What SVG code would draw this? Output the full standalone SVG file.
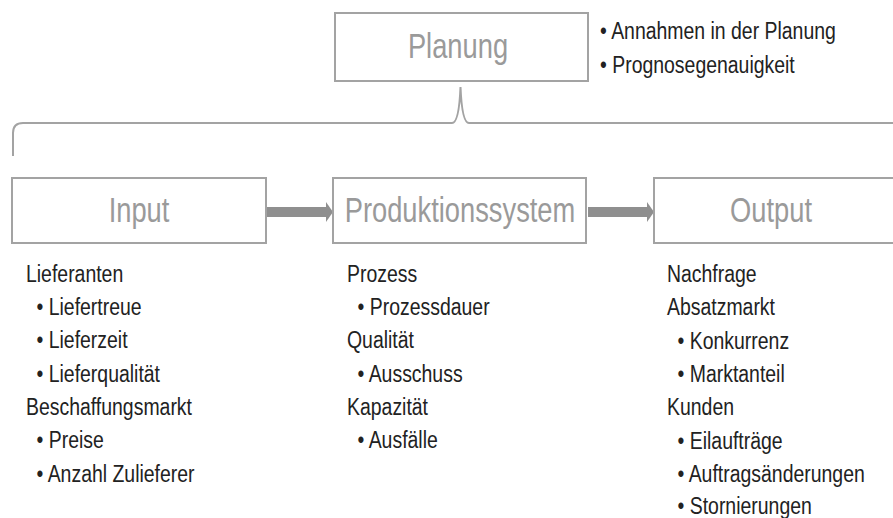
<svg xmlns="http://www.w3.org/2000/svg" width="893" height="518" viewBox="0 0 893 518">
<style>
.box{fill:#fff;stroke:#a3a3a3;stroke-width:2}
.lbl{font-family:"Liberation Sans",Arial,sans-serif;font-size:35px;fill:#9a9a9a;text-anchor:middle}
.lst{font-family:"Liberation Sans",Arial,sans-serif;font-size:24px;fill:#222}
.arr{fill:#8f8f8f}
.brace{fill:none;stroke:#a3a3a3;stroke-width:2}
</style>
<rect width="893" height="518" fill="#fff"/>
<g id="connectors">
<path class="brace" d="M13,156 L13,133 Q13,123 23,123 L452,123 Q459,123 460.5,87 Q462,123 469,123 L900,123"/>
<g id="arrow-input-prod">
<rect class="arr" x="267" y="207" width="60" height="10"/>
<polygon class="arr" points="326,202 333,212 326,222"/>
</g>
<g id="arrow-prod-output">
<rect class="arr" x="588" y="207" width="60" height="10"/>
<polygon class="arr" points="647,202 654,212 647,222"/>
</g>
</g>
<g id="planung">
<rect class="box" x="335" y="13" width="253" height="68"/>
<g transform="translate(458,0) scale(0.78,1)"><text class="lbl" x="0" y="58">Planung</text></g>
</g>
<g id="planung-notes" transform="translate(600,0) scale(0.81,1)">
<text class="lst" x="0" y="39">• Annahmen in der Planung</text>
<text class="lst" x="0" y="73">• Prognosegenauigkeit</text>
</g>
<g id="input">
<rect class="box" x="12" y="178" width="254" height="65"/>
<g transform="translate(139,0) scale(0.78,1)"><text class="lbl" x="0" y="222">Input</text></g>
</g>
<g id="produktionssystem">
<rect class="box" x="333" y="178" width="253" height="65"/>
<g transform="translate(460,0) scale(0.78,1)"><text class="lbl" x="0" y="222">Produktionssystem</text></g>
</g>
<g id="output">
<rect class="box" x="654" y="178" width="260" height="65"/>
<g transform="translate(771,0) scale(0.78,1)"><text class="lbl" x="0" y="222">Output</text></g>
</g>
<g id="input-list" transform="translate(26,0) scale(0.81,1)">
<text class="lst" x="0" y="282">Lieferanten</text>
<text class="lst" x="13" y="315">• Liefertreue</text>
<text class="lst" x="13" y="348">• Lieferzeit</text>
<text class="lst" x="13" y="382">• Lieferqualität</text>
<text class="lst" x="0" y="415">Beschaffungsmarkt</text>
<text class="lst" x="13" y="448">• Preise</text>
<text class="lst" x="13" y="482">• Anzahl Zulieferer</text>
</g>
<g id="prod-list" transform="translate(347,0) scale(0.81,1)">
<text class="lst" x="0" y="282">Prozess</text>
<text class="lst" x="13" y="315">• Prozessdauer</text>
<text class="lst" x="0" y="348">Qualität</text>
<text class="lst" x="13" y="382">• Ausschuss</text>
<text class="lst" x="0" y="415">Kapazität</text>
<text class="lst" x="13" y="448">• Ausfälle</text>
</g>
<g id="output-list" transform="translate(667,0) scale(0.81,1)">
<text class="lst" x="0" y="282">Nachfrage</text>
<text class="lst" x="0" y="315">Absatzmarkt</text>
<text class="lst" x="13" y="349">• Konkurrenz</text>
<text class="lst" x="13" y="382">• Marktanteil</text>
<text class="lst" x="0" y="415">Kunden</text>
<text class="lst" x="13" y="449">• Eilaufträge</text>
<text class="lst" x="13" y="482">• Auftragsänderungen</text>
<text class="lst" x="13" y="514">• Stornierungen</text>
</g>
</svg>
